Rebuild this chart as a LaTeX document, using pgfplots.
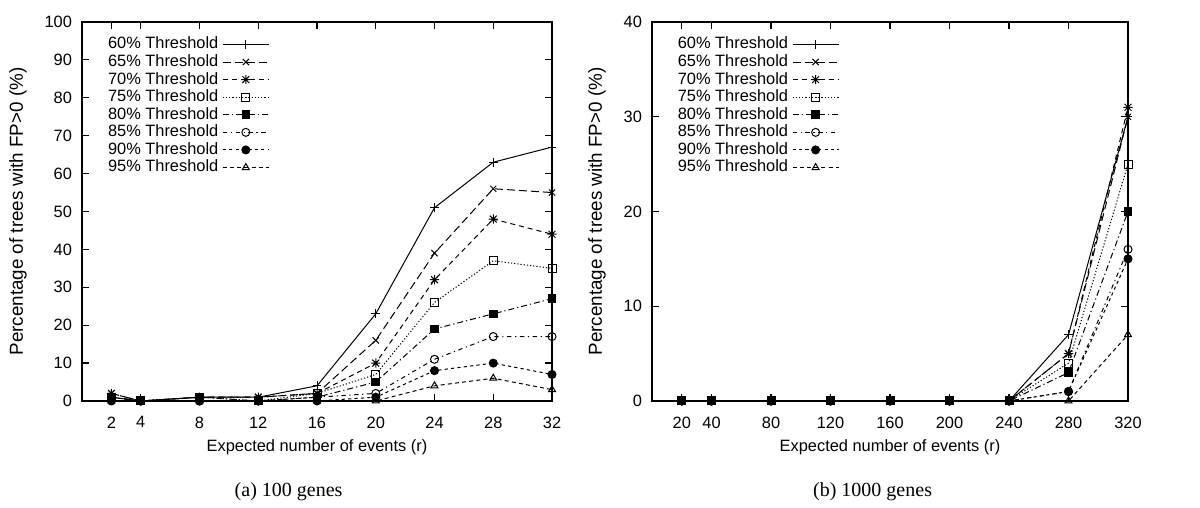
\documentclass[border=0pt]{standalone}
\usepackage{fontspec}
\setmainfont{Liberation Sans}
\newfontfamily\capfont{Liberation Serif}
\usepackage{pgfplots}
\pgfplotsset{compat=1.18}

\pgfdeclareplotmark{gstar}{%
  \pgfpathmoveto{\pgfqpoint{-\pgfplotmarksize}{0pt}}\pgfpathlineto{\pgfqpoint{\pgfplotmarksize}{0pt}}%
  \pgfpathmoveto{\pgfqpoint{0pt}{-\pgfplotmarksize}}\pgfpathlineto{\pgfqpoint{0pt}{\pgfplotmarksize}}%
  \pgfpathmoveto{\pgfqpoint{-0.75\pgfplotmarksize}{-0.75\pgfplotmarksize}}\pgfpathlineto{\pgfqpoint{0.75\pgfplotmarksize}{0.75\pgfplotmarksize}}%
  \pgfpathmoveto{\pgfqpoint{-0.75\pgfplotmarksize}{0.75\pgfplotmarksize}}\pgfpathlineto{\pgfqpoint{0.75\pgfplotmarksize}{-0.75\pgfplotmarksize}}%
  \pgfusepathqstroke}

\newcommand{\gpfont}{\fontsize{8.2}{9.5}\selectfont}
\newcommand{\gpyfont}{\fontsize{9.4}{11}\selectfont}

\pgfplotsset{
  gpl/.style={black,line width=0.5pt,mark options={solid,black,line width=0.5pt}},
  gp/.style={
    scale only axis,
    height=189.5pt,
    ymin=0,
    tick align=inside,
    major tick length=3.5pt,
    axis line style={line width=0.7pt},
    every tick/.style={line width=0.6pt,black},
    /pgf/number format/assume math mode=true,
    tick label style={font=\gpfont},
    xticklabel style={yshift=-4.3pt},
    yticklabel style={xshift=-1.5pt},
    every axis x label/.style={at={(axis description cs:0.5,-0.123)},anchor=center,font=\gpfont},
    legend cell align=right,
    legend plot pos=right,
    reverse legend,
    legend image code/.code={\draw[mark repeat=2,mark phase=2] plot coordinates {(0pt,0pt) (11.5pt,0pt) (23pt,0pt)};},
    legend style={draw=none,fill=none,inner sep=0pt,row sep=-2.65pt,
      font=\gpfont,anchor=north west},
    s60/.style={gpl,solid,mark=+,mark size=2.2pt},
    s65/.style={gpl,dash pattern=on 4pt off 2pt,mark=x,mark size=2.2pt},
    s70/.style={gpl,dash pattern=on 2.5pt off 2pt,mark=gstar,mark size=2.3pt},
    s75/.style={gpl,dash pattern=on 0.6pt off 1pt,mark=square,mark size=2pt},
    s80/.style={gpl,dash pattern=on 3pt off 1.5pt on 0.6pt off 1.5pt,mark=square*,mark size=1.9pt},
    s85/.style={gpl,dash pattern=on 2.2pt off 1.8pt on 0.6pt off 1.8pt,mark=o,mark size=2pt},
    s90/.style={gpl,dash pattern=on 1.6pt off 1.6pt,mark=*,mark size=2pt},
    s95/.style={gpl,dash pattern=on 2pt off 1.6pt,mark=triangle,mark size=2pt},
  }
}

\begin{document}
\begin{tikzpicture}
\path (0,0) rectangle (600pt,252.5pt);

\begin{axis}[gp,
  at={(41pt,52pt)}, anchor=south west,
  width=235pt,
  xmin=0, xmax=32, ymax=100,
  xtick={2,4,8,12,16,20,24,28,32},
  ytick={0,10,...,100},
  every axis y label/.style={at={(axis description cs:-0.136,0.5)},rotate=90,anchor=center,font=\gpyfont},
  xlabel={Expected number of events (r)},
  ylabel={Percentage of trees with FP>0 (\%)},
  legend style={at={(axis description cs:0.046,0.972)}},
]
\addplot[s95] coordinates {(2,0) (4,0) (8,0) (12,0) (16,0) (20,0) (24,4) (28,6) (32,3)};
\addplot[s90] coordinates {(2,0) (4,0) (8,0) (12,0) (16,0) (20,1) (24,8) (28,10) (32,7)};
\addplot[s85] coordinates {(2,1) (4,0) (8,0) (12,0) (16,1) (20,2) (24,11) (28,17) (32,17)};
\addplot[s80] coordinates {(2,1) (4,0) (8,1) (12,0) (16,1) (20,5) (24,19) (28,23) (32,27)};
\addplot[s75] coordinates {(2,1) (4,0) (8,1) (12,0) (16,2) (20,7) (24,26) (28,37) (32,35)};
\addplot[s70] coordinates {(2,2) (4,0) (8,1) (12,1) (16,2) (20,10) (24,32) (28,48) (32,44)};
\addplot[s65] coordinates {(2,2) (4,0) (8,1) (12,1) (16,2) (20,16) (24,39) (28,56) (32,55)};
\addplot[s60] coordinates {(2,1) (4,0) (8,1) (12,1) (16,4) (20,23) (24,51) (28,63) (32,67)};
\legend{95\% Threshold,90\% Threshold,85\% Threshold,80\% Threshold,75\% Threshold,70\% Threshold,65\% Threshold,60\% Threshold}
\end{axis}

\begin{axis}[gp,
  at={(326pt,52pt)}, anchor=south west,
  width=238pt,
  xmin=0, xmax=320, ymax=40,
  xtick={20,40,80,120,160,200,240,280,320},
  ytick={0,10,...,40},
  every axis y label/.style={at={(axis description cs:-0.1155,0.5)},rotate=90,anchor=center,font=\gpyfont},
  xlabel={Expected number of events (r)},
  ylabel={Percentage of trees with FP>0 (\%)},
  legend style={at={(axis description cs:0.045,0.972)}},
]
\addplot[s95] coordinates {(20,0) (40,0) (80,0) (120,0) (160,0) (200,0) (240,0) (280,0) (320,7)};
\addplot[s90] coordinates {(20,0) (40,0) (80,0) (120,0) (160,0) (200,0) (240,0) (280,1) (320,15)};
\addplot[s85] coordinates {(20,0) (40,0) (80,0) (120,0) (160,0) (200,0) (240,0) (280,1) (320,16)};
\addplot[s80] coordinates {(20,0) (40,0) (80,0) (120,0) (160,0) (200,0) (240,0) (280,3) (320,20)};
\addplot[s75] coordinates {(20,0) (40,0) (80,0) (120,0) (160,0) (200,0) (240,0) (280,4) (320,25)};
\addplot[s70] coordinates {(20,0) (40,0) (80,0) (120,0) (160,0) (200,0) (240,0) (280,5) (320,31)};
\addplot[s65] coordinates {(20,0) (40,0) (80,0) (120,0) (160,0) (200,0) (240,0) (280,5) (320,30)};
\addplot[s60] coordinates {(20,0) (40,0) (80,0) (120,0) (160,0) (200,0) (240,0) (280,7) (320,30)};
\legend{95\% Threshold,90\% Threshold,85\% Threshold,80\% Threshold,75\% Threshold,70\% Threshold,65\% Threshold,60\% Threshold}
\end{axis}

\node[font=\capfont\fontsize{10}{12}\selectfont,anchor=center] at (144.3pt,6.8pt) {(a) 100 genes};
\node[font=\capfont\fontsize{10}{12}\selectfont,anchor=center] at (436.3pt,6.8pt) {(b) 1000 genes};
\end{tikzpicture}
\end{document}
